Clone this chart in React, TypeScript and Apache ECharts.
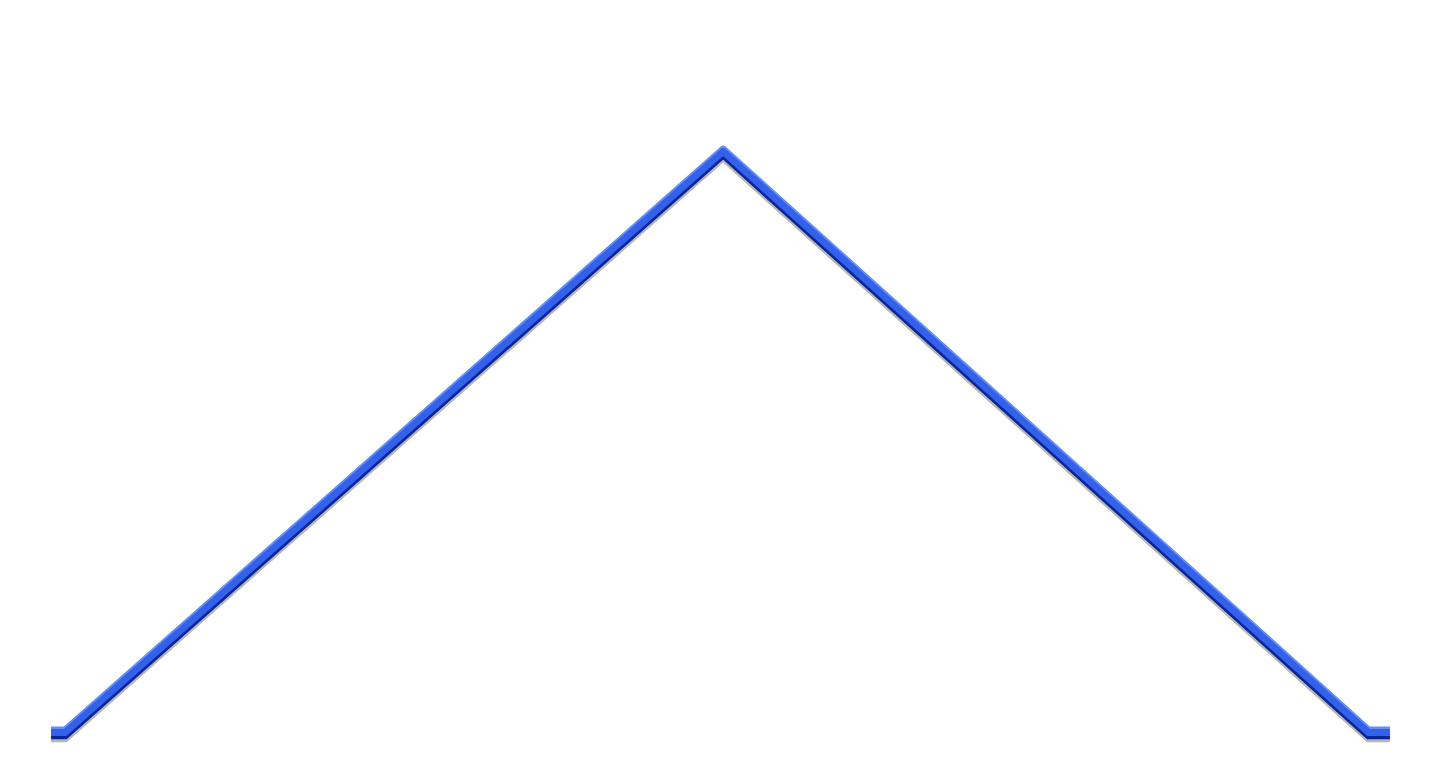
import React, { useEffect, useRef } from "react";
import * as echarts from "echarts";

// Data
const xPositions: number[] = [0, 1.05, 50.2, 98.4, 100];
const values: number[] = [0, 0, 100, 0, 0];

// Layers of the embossed line (bottom to top)
const layerNames: string[] = ["shadow", "dark", "light", "main"];
const layerColors: string[] = ["#b9b5b2", "#0a279a", "#6290f8", "#3461ea"];
const layerWidths: number[] = [7, 7, 7, 7];
const layerOffsets: number[] = [6.5, 3.5, -2.5, 0];

export default function App() {
  const ref = useRef<HTMLDivElement>(null);

  useEffect(() => {
    if (!ref.current) return;
    const chart = echarts.init(ref.current, undefined, { renderer: "svg" });
    const points = xPositions.map((x, i) => [x, values[i]]);
    const baseTop = 151.5;
    const baseBottom = 43.5;
    const grids = layerNames.map((_, i) => ({
      left: 51,
      right: 50,
      top: baseTop + layerOffsets[i],
      bottom: baseBottom - layerOffsets[i],
      containLabel: false,
    }));
    const xAxes = layerNames.map((_, i) => ({
      type: "value" as const,
      gridIndex: i,
      min: 0,
      max: 100,
      show: false,
    }));
    const yAxes = layerNames.map((_, i) => ({
      type: "value" as const,
      gridIndex: i,
      min: 0,
      max: 100,
      show: false,
    }));
    const series = layerNames.map((name, i) => ({
      name,
      type: "line" as const,
      xAxisIndex: i,
      yAxisIndex: i,
      data: points,
      symbol: "none",
      showSymbol: false,
      z: i + 1,
      silent: true,
      lineStyle: {
        color: layerColors[i],
        width: layerWidths[i],
        cap: "butt" as const,
        join: "miter" as const,
      },
    }));
    chart.setOption({
      animation: false,
      backgroundColor: "#ffffff",
      grid: grids,
      xAxis: xAxes,
      yAxis: yAxes,
      series,
    });
    return () => chart.dispose();
  }, []);

  return (
    <div
      ref={ref}
      style={{ position: "fixed", left: 0, top: 0, width: 1440, height: 776 }}
    />
  );
}
